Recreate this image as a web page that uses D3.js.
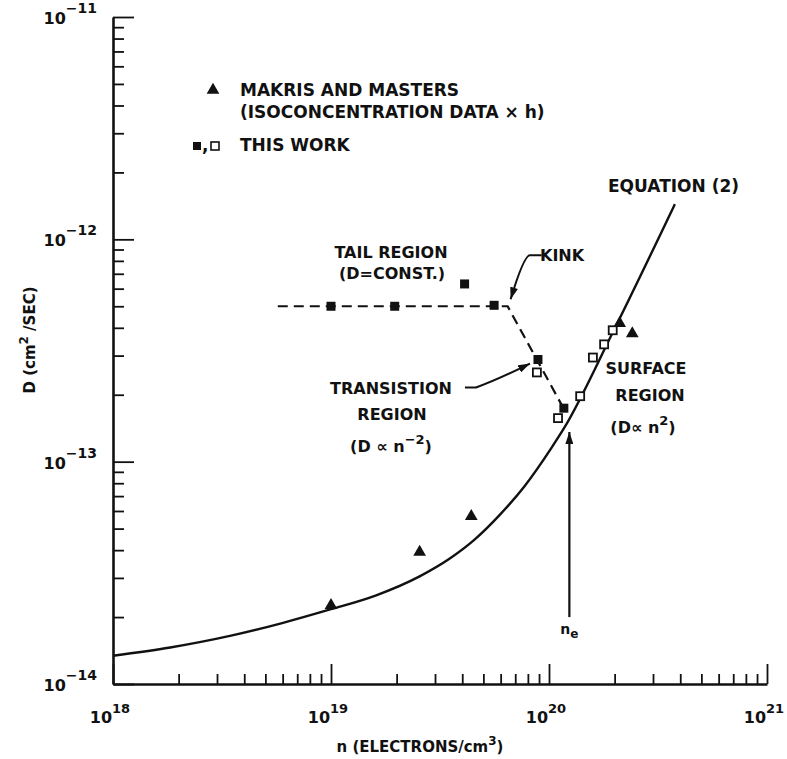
<!DOCTYPE html>
<html>
<head>
<meta charset="utf-8">
<script src="https://cdn.jsdelivr.net/npm/d3@7"></script>
<style>
body { margin: 0; background: #fff; }
svg text { font-family: "DejaVu Sans", sans-serif; font-weight: bold; fill: #111; }
</style>
</head>
<body>
<div id="chart"></div>
<script>
// Makris and Masters (triangles)
var makrisN = [1.0e19, 2.55e19, 4.4e19, 2.11e20, 2.41e20];
var makrisD = [2.26e-14, 3.92e-14, 5.68e-14, 4.19e-13, 3.77e-13];

// this work, filled squares
var filledN = [1.0e19, 1.96e19, 4.1e19, 5.6e19, 8.9e19, 1.17e20];
var filledD = [5.0e-13, 5.0e-13, 6.3e-13, 5.05e-13, 2.88e-13, 1.74e-13];

// this work, open squares
var openN = [8.8e19, 1.10e20, 1.39e20, 1.59e20, 1.79e20, 1.96e20];
var openD = [2.52e-13, 1.57e-13, 1.97e-13, 2.94e-13, 3.37e-13, 3.90e-13];

// dashed tail / transition line
var dashN = [5.7e18, 6.46e19, 1.2e20];
var dashD = [5.0e-13, 5.0e-13, 1.65e-13];

// equation (2)
var eqN = [1e18, 1.83e18, 3.48e18, 5.97e18, 1e19, 1.6e19, 2.55e19, 3.48e19, 4.54e19, 5.93e19, 7.74e19, 1.03e20, 1.17e20, 1.96e20, 3.78e20];
var eqD = [1.34e-14, 1.46e-14, 1.65e-14, 1.88e-14, 2.17e-14, 2.50e-14, 3.05e-14, 3.65e-14, 4.45e-14, 5.75e-14, 7.78e-14, 1.16e-13, 1.41e-13, 3.81e-13, 1.44e-12];

var nE = 1.24e20;

var xTicks = [1e18, 1e19, 1e20, 1e21];
var xExp = ["18", "19", "20", "21"];
var yTicks = [1e-11, 1e-12, 1e-13, 1e-14];
var yExp = ["\u221211", "\u221212", "\u221213", "\u221214"];

var width = 787, height = 759;

var svg = d3.select("#chart").append("svg")
    .attr("width", width)
    .attr("height", height);

var x = d3.scaleLog().domain([1e18, 1e21]).range([113, 767]);
var y = d3.scaleLog().domain([1e-14, 1e-11]).range([684, 17]);

// minor tick values
var xMinor = [];
[1e18, 1e19, 1e20].forEach(function(p) {
  for (var m = 2; m <= 9; m++) xMinor.push(m * p);
});
var yMinor = [];
[1e-14, 1e-13, 1e-12].forEach(function(p) {
  for (var m = 2; m <= 9; m++) yMinor.push(m * p);
});

// axes
var xAxisG = svg.append("g").attr("transform", "translate(0,684)");
xAxisG.call(d3.axisBottom(x).tickValues(xMinor).tickSize(-10).tickSizeOuter(0).tickFormat(""));
xAxisG.append("g").call(d3.axisBottom(x).tickValues(xTicks).tickSize(-20).tickSizeOuter(0).tickFormat(""))
  .select(".domain").remove();

var yAxisG = svg.append("g").attr("transform", "translate(113,0)");
yAxisG.call(d3.axisLeft(y).tickValues(yMinor).tickSize(-11).tickSizeOuter(0).tickFormat(""));
yAxisG.append("g").call(d3.axisLeft(y).tickValues(yTicks).tickSize(-21).tickSizeOuter(0).tickFormat(""))
  .select(".domain").remove();

svg.selectAll(".domain").attr("stroke", "#111").attr("stroke-width", 2.6);
svg.selectAll(".tick line").attr("stroke", "#111").attr("stroke-width", 1.8);

// tick labels
xTicks.forEach(function(t, i) {
  var tx = svg.append("text")
      .attr("x", x(t) - 3)
      .attr("y", 723)
      .attr("text-anchor", "middle")
      .style("font-size", "16px");
  tx.append("tspan").text("10");
  tx.append("tspan").attr("dy", -10).style("font-size", "13px").text(xExp[i]);
});

yTicks.forEach(function(t, i) {
  var ty = svg.append("text")
      .attr("x", 97)
      .attr("y", y(t) + 7)
      .attr("text-anchor", "end")
      .style("font-size", "16px");
  ty.append("tspan").text("10");
  ty.append("tspan").attr("dy", -11).style("font-size", "14px").text(yExp[i]);
});

// axis titles
var xt = svg.append("text")
    .attr("x", 420).attr("y", 752)
    .attr("text-anchor", "middle")
    .style("font-size", "15px");
xt.append("tspan").text("n (ELECTRONS/cm");
xt.append("tspan").attr("dy", -7).style("font-size", "12px").text("3");
xt.append("tspan").attr("dy", 7).text(")");

var yt = svg.append("text")
    .attr("transform", "translate(35,340) rotate(-90)")
    .attr("text-anchor", "middle")
    .style("font-size", "15px");
yt.append("tspan").text("D (cm");
yt.append("tspan").attr("dy", -7).style("font-size", "12px").text("2");
yt.append("tspan").attr("dy", 7).text(" /SEC)");

// equation (2) curve
var eqData = eqN.map(function(n, i) { return [n, eqD[i]]; });
svg.append("path")
    .datum(eqData)
    .attr("fill", "none")
    .attr("stroke", "#111")
    .attr("stroke-width", 2.4)
    .attr("d", d3.line()
      .x(function(d) { return x(d[0]); })
      .y(function(d) { return y(d[1]); })
      .curve(d3.curveMonotoneX));

// dashed line
var dashData = dashN.map(function(n, i) { return [n, dashD[i]]; });
svg.append("path")
    .datum(dashData)
    .attr("fill", "none")
    .attr("stroke", "#111")
    .attr("stroke-width", 2.2)
    .attr("stroke-dasharray", "10,6")
    .attr("d", d3.line()
      .x(function(d) { return x(d[0]); })
      .y(function(d) { return y(d[1]); }));

// markers
var tri = d3.symbol().type(d3.symbolTriangle).size(70);

svg.selectAll(".tri")
    .data(makrisN)
  .enter().append("path")
    .attr("class", "tri")
    .attr("d", tri)
    .attr("fill", "#111")
    .attr("transform", function(d, i) { return "translate(" + x(d) + "," + y(makrisD[i]) + ")"; });

svg.selectAll(".fsq")
    .data(filledN)
  .enter().append("rect")
    .attr("class", "fsq")
    .attr("x", function(d) { return x(d) - 4.5; })
    .attr("y", function(d, i) { return y(filledD[i]) - 4.5; })
    .attr("width", 9).attr("height", 9)
    .attr("fill", "#111");

svg.selectAll(".osq")
    .data(openN)
  .enter().append("rect")
    .attr("class", "osq")
    .attr("x", function(d) { return x(d) - 4; })
    .attr("y", function(d, i) { return y(openD[i]) - 4; })
    .attr("width", 8).attr("height", 8)
    .attr("fill", "#fff")
    .attr("stroke", "#111")
    .attr("stroke-width", 1.8);

// arrowheads
svg.append("defs").append("marker")
    .attr("id", "arr")
    .attr("viewBox", "0 0 12 8")
    .attr("refX", 12).attr("refY", 4)
    .attr("markerWidth", 12).attr("markerHeight", 8)
    .attr("markerUnits", "userSpaceOnUse")
    .attr("orient", "auto")
  .append("path")
    .attr("d", "M0,0 L12,4 L0,8 Z")
    .attr("fill", "#111");

// kink leader
var kx = x(dashN[1]), ky = y(dashD[1]);
svg.append("path")
    .attr("fill", "none").attr("stroke", "#111").attr("stroke-width", 2)
    .attr("marker-end", "url(#arr)")
    .attr("d", "M" + (kx + 34) + "," + (ky - 51) + " L" + (kx + 22) + "," + (ky - 51) +
               " Q" + (kx + 16) + "," + (ky - 50) + " " + (kx + 3) + "," + (ky - 7));

// transition leader
var tx0 = x(filledN[4]), ty0 = y(filledD[4]);
svg.append("path")
    .attr("fill", "none").attr("stroke", "#111").attr("stroke-width", 2)
    .attr("marker-end", "url(#arr)")
    .attr("d", "M" + (tx0 - 73) + "," + (ty0 + 28) + " L" + (tx0 - 62) + "," + (ty0 + 28) +
               " Q" + (tx0 - 40) + "," + (ty0 + 20) + " " + (tx0 - 8) + "," + (ty0 + 4));

// n_e arrow
svg.append("path")
    .attr("fill", "none").attr("stroke", "#111").attr("stroke-width", 2.2)
    .attr("marker-end", "url(#arr)")
    .attr("d", "M" + x(nE) + "," + y(2.0e-14) + " L" + x(nE) + "," + y(1.36e-13));

// annotation text
function label(txt, px, py, anchor, size) {
  return svg.append("text")
      .attr("x", px).attr("y", py)
      .attr("text-anchor", anchor || "start")
      .style("font-size", (size || 16) + "px")
      .text(txt);
}

label("TAIL REGION", 391, 258, "middle");
label("(D=CONST.)", 392, 279, "middle");
label("KINK", 540, 261);
label("EQUATION (2)", 608, 192, "start", 17);
label("TRANSISTION", 391, 394, "middle");
label("REGION", 392, 420, "middle");
var tr = svg.append("text").attr("x", 391).attr("y", 452).attr("text-anchor", "middle").style("font-size", "16px");
tr.append("tspan").text("(D \u221D n");
tr.append("tspan").attr("dy", -8).style("font-size", "13px").text("\u22122");
tr.append("tspan").attr("dy", 8).text(")");

label("SURFACE", 646, 374, "middle");
label("REGION", 650, 401, "middle");
var sr = svg.append("text").attr("x", 643).attr("y", 433).attr("text-anchor", "middle").style("font-size", "16px");
sr.append("tspan").text("(D\u221D n");
sr.append("tspan").attr("dy", -8).style("font-size", "13px").text("2");
sr.append("tspan").attr("dy", 8).text(")");

var ne = svg.append("text").attr("x", x(nE)).attr("y", 634).attr("text-anchor", "middle").style("font-size", "14px");
ne.append("tspan").text("n");
ne.append("tspan").attr("dy", 4).style("font-size", "12px").text("e");

// legend
svg.append("path")
    .attr("d", tri)
    .attr("fill", "#111")
    .attr("transform", "translate(213,90)");
label("MAKRIS AND MASTERS", 240, 96, "start", 17);
label("(ISOCONCENTRATION DATA \u00D7 h)", 240, 118, "start", 17);

svg.append("rect").attr("x", 193).attr("y", 142).attr("width", 8).attr("height", 8).attr("fill", "#111");
label(",", 202, 151, "start", 17);
svg.append("rect").attr("x", 211).attr("y", 142).attr("width", 8).attr("height", 8)
    .attr("fill", "#fff").attr("stroke", "#111").attr("stroke-width", 1.6);
label("THIS WORK", 240, 151, "start", 17);
</script>
</body>
</html>
